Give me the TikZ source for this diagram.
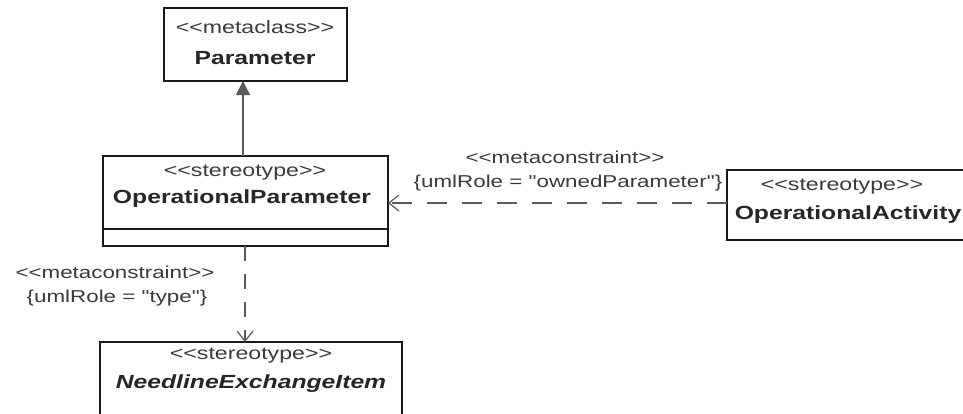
\documentclass[tikz,border=0pt]{standalone}
\usepackage{fontspec}
\newfontfamily\uf{Liberation Sans}[FakeStretch=1.3, Ligatures=TeXOff]
\usetikzlibrary{arrows.meta}
\definecolor{txtg}{HTML}{3A3A3A}
\definecolor{lineg}{HTML}{5A5A5A}
\tikzset{
  boxl/.style={draw=black!90, line width=1.8pt},
  stereo/.style={inner sep=0pt, text=txtg, font=\uf\fontsize{17.8}{20}\selectfont},
  cname/.style={inner sep=0pt, text=black!85, font=\uf\fontsize{19}{21}\selectfont\bfseries},
  lbl/.style={inner sep=0pt, text=txtg, font=\uf\fontsize{17.2}{20}\selectfont},
  dep/.style={draw=lineg, line width=1.5pt, -{Straight Barb[length=10pt,width=16pt,line width=1.2pt]}},
  gen/.style={draw=lineg, line width=1.5pt, -{Triangle[length=14pt,width=14pt,fill=lineg]}}
}
\begin{document}
\begin{tikzpicture}[x=1pt,y=-1pt]
\useasboundingbox (0,0) rectangle (963,413);
\clip (0,0) rectangle (963,413);
\fill[white] (0,0) rectangle (963,413);
% Parameter
\draw[boxl] (164,8) rectangle (347,81);
\coordinate (parB) at (243,81);
\node[stereo] (parS) at (255,27) {<<metaclass>>};
\node[cname] (parN) at (255,58) {Parameter};
% OperationalParameter
\draw[boxl] (103,156) rectangle (388,246);
\draw[boxl] (103,229) -- (388,229);
\coordinate (opT) at (243,156);
\coordinate (opB) at (245,246);
\coordinate (opR) at (388,203);
\node[stereo] (opS) at (245,173) {<<stereotype>>};
\node[cname] (opN) at (242,199) {OperationalParameter};
% OperationalActivity
\draw[boxl] (727,170) rectangle (970,240);
\coordinate (oaL) at (727,203);
\node[stereo] (oaS) at (842,187) {<<stereotype>>};
\node[cname] (oaN) at (848,215) {OperationalActivity};
% NeedlineExchangeItem
\draw[boxl] (100,342) rectangle (402,425);
\coordinate (neT) at (245,342);
\node[stereo] (neS) at (251,356) {<<stereotype>>};
\node[cname, font=\uf\fontsize{19}{21}\selectfont\bfseries\itshape] (neN) at (251,384) {NeedlineExchangeItem};
% connectors
\draw[gen] (opT) -- (parB);
\draw[dep, dash pattern=on 20pt off 15pt] (oaL) -- (opR);
\draw[dep, dash pattern=on 15pt off 13pt] (opB) -- (neT);
% labels
\node[lbl] (l1a) at (565,157) {<<metaconstraint>>};
\node[lbl] (l1b) at (568,183) {\{umlRole = "ownedParameter"\}};
\node[lbl] (l2a) at (115,272) {<<metaconstraint>>};
\node[lbl] (l2b) at (117,298) {\{umlRole = "type"\}};
\end{tikzpicture}
\end{document}
